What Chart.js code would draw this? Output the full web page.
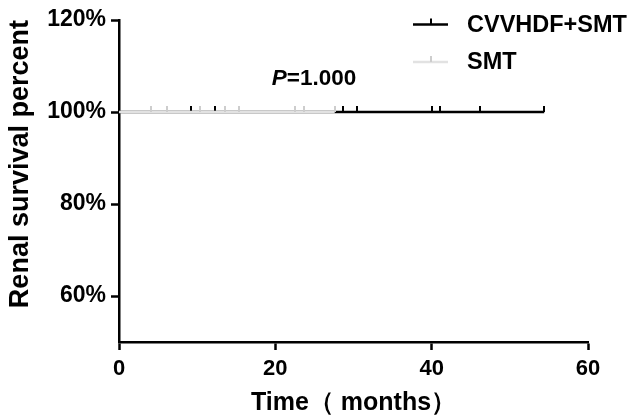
<!DOCTYPE html>
<html>
<head>
<meta charset="utf-8">
<script src="https://cdn.jsdelivr.net/npm/chart.js@4.4.1/dist/chart.umd.min.js"></script>
<style>
html,body{margin:0;padding:0;background:#fff;}
#wrap{width:635px;height:416px;position:relative;}
</style>
</head>
<body>
<div id="wrap"><canvas id="c" width="635" height="416"></canvas></div>
<script>
// ---- data ----
const seriesLabels = ['CVVHDF+SMT', 'SMT'];
const cvvTimes    = [0, 9.2, 12.3, 28.6, 30.5, 40.0, 41.1, 46.2, 54.4];
const cvvSurvival = [100, 100, 100, 100, 100, 100, 100, 100, 100];
const cvvCensored = [false, true, true, true, true, true, true, true, true];
const smtTimes    = [0, 4.1, 6.2, 10.3, 13.5, 15.3, 22.5, 23.7, 27.6];
const smtSurvival = [100, 100, 100, 100, 100, 100, 100, 100, 100];
const smtCensored = [false, true, true, true, true, true, true, true, true];
const xTickValues = [0, 20, 40, 60];
const yTickValues = [60, 80, 100, 120];
const pValueText = '=1.000';
const xTitle = 'Time（ months）';
const yTitle = 'Renal survival percent';

const FONT = "'Liberation Sans', Arial, Helvetica, sans-serif";
const BLACK = '#000000';
const GREY = '#e2e2e2';
const GREY_TICK = '#cdcdcd';

function censorMark(color) {
  const cv = document.createElement('canvas');
  cv.width = 2; cv.height = 12;
  const g = cv.getContext('2d');
  g.fillStyle = color;
  g.fillRect(0, 0, 2, 6);
  return cv;
}

function makeDataset(label, times, surv, cens, color, tickColor, order, width) {
  return {
    label: label,
    data: times.map((t, i) => ({ x: t, y: surv[i] })),
    stepped: true,
    borderColor: color,
    backgroundColor: color,
    borderWidth: width,
    fill: false,
    pointStyle: censorMark(tickColor),
    pointRadius: cens.map(c => c ? 3 : 0),
    pointHoverRadius: cens.map(c => c ? 3 : 0),
    order: order
  };
}

const legendPlugin = {
  id: 'kmLegend',
  afterDraw(chart) {
    const ctx = chart.ctx;
    const rows = [24.5, 62];
    chart.data.datasets.forEach((ds, i) => {
      const y = rows[i];
      ctx.save();
      ctx.strokeStyle = ds.borderColor;
      ctx.lineWidth = 2.5;
      ctx.beginPath();
      ctx.moveTo(413, y); ctx.lineTo(448, y);
      ctx.stroke();
      ctx.fillStyle = i === 0 ? BLACK : GREY_TICK;
      ctx.fillRect(430, y - 6, 2, 6);
      ctx.fillStyle = BLACK;
      ctx.font = 'bold 23.5px ' + FONT;
      ctx.textBaseline = 'middle';
      ctx.textAlign = 'left';
      ctx.fillText(ds.label, 467, y + 1);
      ctx.restore();
    });
  }
};

const pPlugin = {
  id: 'pLabel',
  afterDatasetsDraw(chart) {
    const ctx = chart.ctx;
    ctx.save();
    ctx.fillStyle = BLACK;
    ctx.textBaseline = 'middle';
    ctx.textAlign = 'left';
    ctx.font = 'italic bold 22.5px ' + FONT;
    const pw = ctx.measureText('P').width;
    ctx.font = 'bold 22.5px ' + FONT;
    const rw = ctx.measureText(pValueText).width;
    const x0 = 314 - (pw + rw) / 2;
    const y = 79;
    ctx.font = 'italic bold 22.5px ' + FONT;
    ctx.fillText('P', x0, y);
    ctx.font = 'bold 22.5px ' + FONT;
    ctx.fillText(pValueText, x0 + pw, y);
    ctx.restore();
  }
};

new Chart(document.getElementById('c'), {
  type: 'line',
  data: {
    datasets: [
      makeDataset(seriesLabels[0], cvvTimes, cvvSurvival, cvvCensored, BLACK, BLACK, 2, 2.5),
      makeDataset(seriesLabels[1], smtTimes, smtSurvival, smtCensored, GREY, GREY_TICK, 1, 2.5)
    ]
  },
  options: {
    responsive: false,
    animation: false,
    devicePixelRatio: 1,
    layout: { padding: { top: 20, right: 47, left: 0, bottom: 0 } },
    plugins: { legend: { display: false }, tooltip: { enabled: false } },
    scales: {
      x: {
        type: 'linear',
        min: 0, max: 60,
        afterBuildTicks: s => { s.ticks = xTickValues.map(v => ({ value: v })); },
        afterFit: s => { s.height = 74; },
        ticks: { color: BLACK, font: { family: FONT, size: 22, weight: 'bold' }, padding: 6, maxRotation: 0 },
        grid: { drawOnChartArea: false, drawTicks: true, tickLength: 8, tickWidth: 2.5, tickColor: BLACK, color: BLACK },
        border: { display: true, color: BLACK, width: 2.5 },
        title: { display: true, text: xTitle, color: BLACK, font: { family: FONT, size: 25, weight: 'bold', lineHeight: 1 }, padding: { top: 4, bottom: 0 } }
      },
      y: {
        type: 'linear',
        min: 50, max: 120,
        afterBuildTicks: s => { s.ticks = yTickValues.map(v => ({ value: v })); },
        afterFit: s => { s.width = 119; },
        ticks: { color: BLACK, font: { family: FONT, size: 23, weight: 'bold' }, padding: 5, callback: v => v + '%' },
        grid: { drawOnChartArea: false, drawTicks: true, tickLength: 8, tickWidth: 2.5, tickColor: BLACK, color: BLACK },
        border: { display: true, color: BLACK, width: 2.5 },
        title: { display: true, text: yTitle, align: 'end', color: BLACK, font: { family: FONT, size: 27, weight: 'bold' }, padding: { top: 4, bottom: 4 } }
      }
    }
  },
  plugins: [pPlugin, legendPlugin]
});
</script>
</body>
</html>
